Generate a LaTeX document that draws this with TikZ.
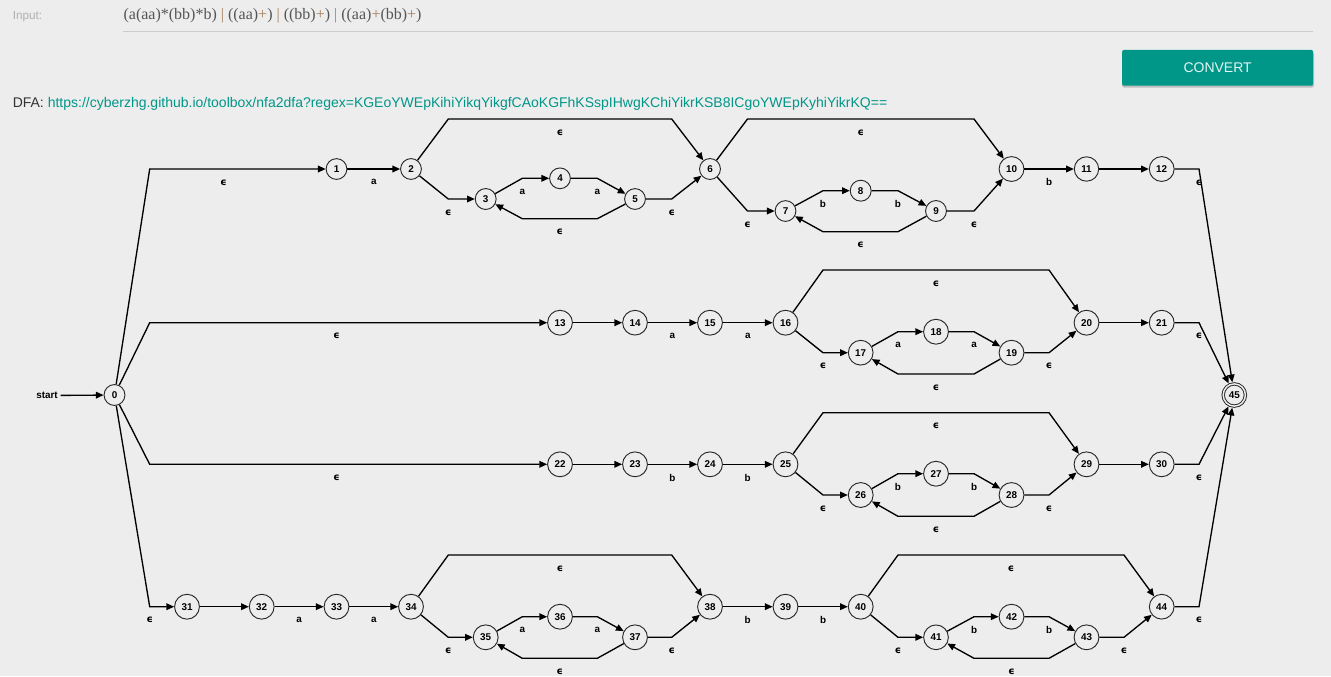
\documentclass[tikz,border=0pt]{standalone}
\usepackage{fontspec}
\setmainfont{Liberation Sans}
\newfontfamily\regexfont{Liberation Serif}
\newfontfamily\epsfont{DejaVu Sans}
\usetikzlibrary{arrows.meta}
\newcommand{\graphfont}{\fontsize{7.4}{8.5}\selectfont\bfseries}
\newcommand{\epsl}{{\epsfont ϵ}}
\definecolor{pagebg}{RGB}{237,237,237}
\definecolor{teal}{RGB}{0,150,136}
\definecolor{opcol}{RGB}{166,127,89}
\begin{document}
\begin{tikzpicture}[x=0.75pt,y=0.75pt,yscale=-1,xscale=1,
  state/.style={circle,draw={rgb, 255:red, 40; green, 40; blue, 40 },line width=0.7pt,inner sep=3.2pt,font=\graphfont},
  accept/.style={state,double=pagebg,double distance=1.1pt,inner sep=2.5pt,outer sep=1.3pt},
  trans/.style={line width=1pt,-{Triangle[length=5.8pt,width=5pt]}},
  elab/.style={font=\graphfont,inner sep=0pt,yshift=-10pt}]
\useasboundingbox (0,0) rectangle (1331,676);
\fill[pagebg] (0,0) rectangle (1331,676);

% Text Node
\node[anchor=west,inner sep=0pt,text={rgb, 255:red, 176; green, 176; blue, 176 },font=\fontsize{8.8}{10}\selectfont] (inlabel) at (12.5,16.5) {Input:};
% Text Node
\node[anchor=base west,inner sep=0pt,text={rgb, 255:red, 85; green, 85; blue, 85 },font=\regexfont\fontsize{12}{14}\selectfont] (regex) at (123.3,19.5) {(a(aa)*(bb)*b) \textcolor{opcol}{|} ((aa)\textcolor{opcol}{+}) \textcolor{opcol}{|} ((bb)\textcolor{opcol}{+}) \textcolor{opcol}{|} ((aa)\textcolor{opcol}{+}(bb)\textcolor{opcol}{+})};
%Straight Lines
\draw [color={rgb, 255:red, 204; green, 204; blue, 204 },line width=0.75pt] (123,31.5) -- (1313,31.5);
%Shape: Rectangle
\fill [color={rgb, 255:red, 190; green, 190; blue, 190 },rounded corners=1.5pt] (1122,52) rectangle (1314,87.5);
% Text Node
\node[fill=teal,rounded corners=1.5pt,minimum width=143.3pt,minimum height=26.8pt,inner sep=0pt,text={rgb, 255:red, 230; green, 246; blue, 244 },font=\fontsize{10.5}{12}\selectfont] (convert) at (1217.6,67.8) {CONVERT};
% Text Node
\node[anchor=west,inner sep=0pt,text={rgb, 255:red, 51; green, 51; blue, 51 },font=\fontsize{10.5}{12}\selectfont] (dfa) at (12.5,104) {DFA: \textcolor{teal}{https://cyberzhg.github.io/toolbox/nfa2dfa?regex=KGEoYWEpKihiYikqYikgfCAoKGFhKSspIHwgKChiYikrKSB8ICgoYWEpKyhiYikrKQ==}};

% bend columns and levels
\coordinate (m0) at (149.7,0);  \coordinate (m1) at (223.7,0);  \coordinate (m2) at (299,0);
\coordinate (m3) at (374,0);    \coordinate (m4) at (448.3,0);  \coordinate (m5) at (522.3,0);
\coordinate (m6) at (597.3,0);  \coordinate (m7) at (671.7,0);  \coordinate (m8) at (747.5,0);
\coordinate (m9) at (823,0);    \coordinate (m10) at (898,0);   \coordinate (m11) at (974,0);
\coordinate (m12) at (1049,0);  \coordinate (m13) at (1124,0);  \coordinate (m14) at (1199,0);
\coordinate (t1) at (0,119);    \coordinate (t2) at (0,270);    \coordinate (t3) at (0,412.7);  \coordinate (t4) at (0,555);
\coordinate (u1) at (0,218.7);  \coordinate (u2) at (0,231.7);  \coordinate (u3) at (0,374);
\coordinate (u4) at (0,516.3);  \coordinate (u5) at (0,658.3);

% States
\node[font=\graphfont,inner sep=2pt] (start) at (47,395.5) {start};
\node[state] (n0) at (114.5,395) {0};
\node[state] (n1) at (336.5,169) {1};
\node[state] (n2) at (411,169) {2};
\node[state] (n3) at (485.7,199) {3};
\node[state] (n4) at (560,178.3) {4};
\node[state] (n5) at (635,199) {5};
\node[state] (n6) at (710,169) {6};
\node[state] (n7) at (785.5,211) {7};
\node[state] (n8) at (860.7,190.7) {8};
\node[state] (n9) at (936,211) {9};
\node[state] (n10) at (1011.5,169) {10};
\node[state] (n11) at (1086.5,169) {11};
\node[state] (n12) at (1161.7,169) {12};
\node[state] (n13) at (560,322.7) {13};
\node[state] (n14) at (635,322.7) {14};
\node[state] (n15) at (710,322.7) {15};
\node[state] (n16) at (785.5,322.7) {16};
\node[state] (n17) at (860.7,352.7) {17};
\node[state] (n18) at (936,331.7) {18};
\node[state] (n19) at (1011.5,352.7) {19};
\node[state] (n20) at (1086.5,322.7) {20};
\node[state] (n21) at (1161.7,322.7) {21};
\node[state] (n22) at (560,464.3) {22};
\node[state] (n23) at (635,464.3) {23};
\node[state] (n24) at (710,464.3) {24};
\node[state] (n25) at (785.5,464.3) {25};
\node[state] (n26) at (860.7,495) {26};
\node[state] (n27) at (936,473.7) {27};
\node[state] (n28) at (1011.5,495) {28};
\node[state] (n29) at (1086.5,464.3) {29};
\node[state] (n30) at (1161.7,464.3) {30};
\node[state] (n31) at (187,606.7) {31};
\node[state] (n32) at (261.7,606.7) {32};
\node[state] (n33) at (336.5,606.7) {33};
\node[state] (n34) at (411,606.7) {34};
\node[state] (n35) at (485.7,637.3) {35};
\node[state] (n36) at (560,616.7) {36};
\node[state] (n37) at (635,637.3) {37};
\node[state] (n38) at (710,606.7) {38};
\node[state] (n39) at (785.5,606.7) {39};
\node[state] (n40) at (860.7,606.7) {40};
\node[state] (n41) at (936,637.3) {41};
\node[state] (n42) at (1011.5,616.7) {42};
\node[state] (n43) at (1086.5,637.3) {43};
\node[state] (n44) at (1161.7,606.7) {44};
\node[accept] (n45) at (1234.3,395) {45};

% first branch
\draw[trans] (start) -- (n0);
\draw[trans] (n0) -- (m0 |- n1) -- node[elab,pos=.42] {\epsl} (n1);
\draw[trans] (n1) -- node[elab] {a} (n2);
\draw[trans] (n2) -- (m4 |- n3) node[elab] {\epsl} -- (n3);
\draw[trans] (n3) -- (m5 |- n4) node[elab] {a} -- (n4);
\draw[trans] (n4) -- (m6 |- n4) node[elab] {a} -- (n5);
\draw[trans] (n5) -- (m6 |- u1) -- node[elab] {\epsl} (m5 |- u1) -- (n3);
\draw[trans] (n5) -- (m7 |- n5) node[elab] {\epsl} -- (n6);
\draw[trans] (n2) -- (m4 |- t1) -- node[elab] {\epsl} (m7 |- t1) -- (n6);
\draw[trans] (n6) -- (m8 |- n7) node[elab] {\epsl} -- (n7);
\draw[trans] (n7) -- (m9 |- n8) node[elab] {b} -- (n8);
\draw[trans] (n8) -- (m10 |- n8) node[elab] {b} -- (n9);
\draw[trans] (n9) -- (m10 |- u2) -- node[elab] {\epsl} (m9 |- u2) -- (n7);
\draw[trans] (n9) -- (m11 |- n9) node[elab] {\epsl} -- (n10);
\draw[trans] (n6) -- (m8 |- t1) -- node[elab] {\epsl} (m11 |- t1) -- (n10);
\draw[trans] (n10) -- node[elab] {b} (n11);
\draw[trans] (n11) -- (n12);
\draw[trans] (n12) -- (m14 |- n12) node[elab] {\epsl} -- (n45);

% second branch
\draw[trans] (n0) -- (m0 |- n13) -- node[elab,pos=.47] {\epsl} (n13);
\draw[trans] (n13) -- (n14);
\draw[trans] (n14) -- node[elab] {a} (n15);
\draw[trans] (n15) -- node[elab] {a} (n16);
\draw[trans] (n16) -- (m9 |- n17) node[elab] {\epsl} -- (n17);
\draw[trans] (n17) -- (m10 |- n18) node[elab] {a} -- (n18);
\draw[trans] (n18) -- (m11 |- n18) node[elab] {a} -- (n19);
\draw[trans] (n19) -- (m11 |- u3) -- node[elab] {\epsl} (m10 |- u3) -- (n17);
\draw[trans] (n19) -- (m12 |- n19) node[elab] {\epsl} -- (n20);
\draw[trans] (n16) -- (m9 |- t2) -- node[elab] {\epsl} (m12 |- t2) -- (n20);
\draw[trans] (n20) -- (n21);
\draw[trans] (n21) -- (m14 |- n21) node[elab] {\epsl} -- (n45);

% third branch
\draw[trans] (n0) -- (m0 |- n22) -- node[elab,pos=.47] {\epsl} (n22);
\draw[trans] (n22) -- (n23);
\draw[trans] (n23) -- node[elab] {b} (n24);
\draw[trans] (n24) -- node[elab] {b} (n25);
\draw[trans] (n25) -- (m9 |- n26) node[elab] {\epsl} -- (n26);
\draw[trans] (n26) -- (m10 |- n27) node[elab] {b} -- (n27);
\draw[trans] (n27) -- (m11 |- n27) node[elab] {b} -- (n28);
\draw[trans] (n28) -- (m11 |- u4) -- node[elab] {\epsl} (m10 |- u4) -- (n26);
\draw[trans] (n28) -- (m12 |- n28) node[elab] {\epsl} -- (n29);
\draw[trans] (n25) -- (m9 |- t3) -- node[elab] {\epsl} (m12 |- t3) -- (n29);
\draw[trans] (n29) -- (n30);
\draw[trans] (n30) -- (m14 |- n30) node[elab] {\epsl} -- (n45);

% fourth branch
\draw[trans] (n0) -- (m0 |- n31) node[elab] {\epsl} -- (n31);
\draw[trans] (n31) -- (n32);
\draw[trans] (n32) -- node[elab] {a} (n33);
\draw[trans] (n33) -- node[elab] {a} (n34);
\draw[trans] (n34) -- (m4 |- n35) node[elab] {\epsl} -- (n35);
\draw[trans] (n35) -- (m5 |- n36) node[elab] {a} -- (n36);
\draw[trans] (n36) -- (m6 |- n36) node[elab] {a} -- (n37);
\draw[trans] (n37) -- (m6 |- u5) -- node[elab] {\epsl} (m5 |- u5) -- (n35);
\draw[trans] (n37) -- (m7 |- n37) node[elab] {\epsl} -- (n38);
\draw[trans] (n34) -- (m4 |- t4) -- node[elab] {\epsl} (m7 |- t4) -- (n38);
\draw[trans] (n38) -- node[elab] {b} (n39);
\draw[trans] (n39) -- node[elab] {b} (n40);
\draw[trans] (n40) -- (m10 |- n41) node[elab] {\epsl} -- (n41);
\draw[trans] (n41) -- (m11 |- n42) node[elab] {b} -- (n42);
\draw[trans] (n42) -- (m12 |- n42) node[elab] {b} -- (n43);
\draw[trans] (n43) -- (m12 |- u5) -- node[elab] {\epsl} (m11 |- u5) -- (n41);
\draw[trans] (n43) -- (m13 |- n43) node[elab] {\epsl} -- (n44);
\draw[trans] (n40) -- (m10 |- t4) -- node[elab] {\epsl} (m13 |- t4) -- (n44);
\draw[trans] (n44) -- (m14 |- n44) node[elab] {\epsl} -- (n45);

\end{tikzpicture}
\end{document}
